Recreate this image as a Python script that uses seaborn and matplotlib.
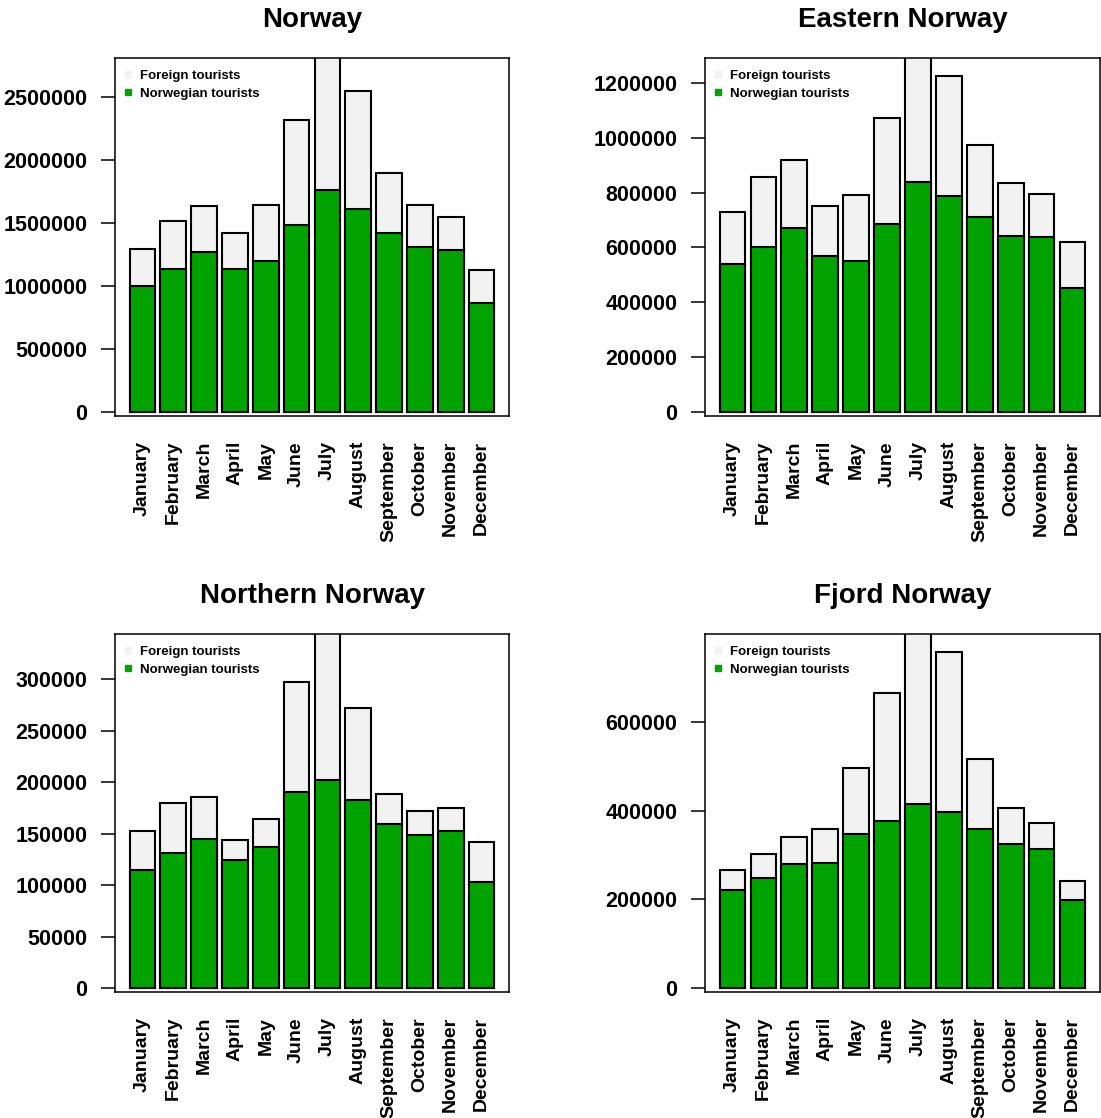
import matplotlib
matplotlib.use("Agg")
import matplotlib.pyplot as plt
from matplotlib.lines import Line2D
import seaborn as sns
import pandas as pd

months = ["January", "February", "March", "April", "May", "June", "July",
          "August", "September", "October", "November", "December"]

# Guest nights per month: total (Norwegian + foreign) and Norwegian only
norway_total = [1295000, 1515000, 1632000, 1425000, 1645000, 2317000, 2950000,
                2553000, 1900000, 1640000, 1545000, 1128000]
norway_norwegian = [1003000, 1136000, 1269000, 1131000, 1200000, 1481000, 1765000,
                    1614000, 1420000, 1311000, 1282000, 865000]

eastern_total = [728000, 855000, 918000, 751000, 792000, 1073000, 1400000,
                 1224000, 972000, 834000, 795000, 619000]
eastern_norwegian = [540000, 602000, 671000, 568000, 551000, 686000, 838000,
                     787000, 710000, 643000, 637000, 451000]

northern_total = [152100, 180100, 185600, 144000, 164500, 296800, 370000,
                  271800, 188600, 171600, 174600, 142100]
northern_norwegian = [114800, 131000, 145000, 123900, 136900, 190500, 201900,
                      182400, 159000, 148900, 152500, 103400]

fjord_total = [265700, 301900, 339600, 357700, 495800, 665700, 860000,
               757700, 515500, 406800, 372800, 241500]
fjord_norwegian = [221100, 248300, 280800, 283000, 347200, 375800, 415800,
                   397000, 358500, 325300, 313200, 199200]

titles = ["Norway", "Eastern Norway", "Northern Norway", "Fjord Norway"]
y_ticks = [
    [0, 500000, 1000000, 1500000, 2000000, 2500000],
    [0, 200000, 400000, 600000, 800000, 1000000, 1200000],
    [0, 50000, 100000, 150000, 200000, 250000, 300000],
    [0, 200000, 400000, 600000],
]
y_limits = [(-34500, 2813000), (-15800, 1291000), (-3900, 343900), (-9060, 798500)]

FOREIGN = "#F2F2F2"
NORWEGIAN = "#00A300"

sns.set_style("ticks")
plt.rcParams["font.family"] = ["Liberation Sans", "DejaVu Sans"]
plt.rcParams["font.weight"] = "bold"
plt.rcParams["axes.linewidth"] = 1.1
plt.rcParams["axes.edgecolor"] = "black"
plt.rcParams["text.color"] = "black"
plt.rcParams["axes.labelcolor"] = "black"
plt.rcParams["xtick.color"] = "black"
plt.rcParams["ytick.color"] = "black"

fig = plt.figure(figsize=(11.01, 11.18), dpi=100)
W, H = 1101, 1118
boxes = [(115, 58, 509, 416), (705, 58, 1100, 416),
         (115, 634, 509, 992), (705, 634, 1100, 992)]

panels = [
    (norway_total, norway_norwegian),
    (eastern_total, eastern_norwegian),
    (northern_total, northern_norwegian),
    (fjord_total, fjord_norwegian),
]

for (x0, y0, x1, y1), title, (total, norw), ticks, ylim in zip(
        boxes, titles, panels, y_ticks, y_limits):
    ax = fig.add_axes([x0 / W, 1 - y1 / H, (x1 - x0) / W, (y1 - y0) / H])
    df = pd.DataFrame({"month": months, "total": total, "norwegian": norw})
    sns.barplot(data=df, x="month", y="total", color=FOREIGN, saturation=1,
                edgecolor="black", linewidth=1.5, width=0.833, ax=ax)
    sns.barplot(data=df, x="month", y="norwegian", color=NORWEGIAN, saturation=1,
                edgecolor="black", linewidth=1.5, width=0.833, ax=ax)
    ax.set_xlim(-0.89, 11.89)
    ax.set_ylim(*ylim)
    ax.set_yticks(ticks)
    ax.set_yticklabels([str(t) for t in ticks], fontsize=15.5, fontweight="bold")
    ax.set_xticks(range(len(months)))
    ax.set_xticklabels(months, rotation=90, fontsize=14, fontweight="bold",
                       ha="center", va="top")
    ax.tick_params(axis="x", length=0, pad=18)
    ax.tick_params(axis="y", length=10, width=1.1, pad=10, color="black")
    ax.set_xlabel("")
    ax.set_ylabel("")
    for s in ax.spines.values():
        s.set_visible(True)
        s.set_color("black")
    ax.set_title(title, fontsize=20, fontweight="bold", pad=22, color="black")

    handles = [
        Line2D([], [], linestyle="none", marker="s", markersize=4,
               markerfacecolor=FOREIGN, markeredgecolor=FOREIGN),
        Line2D([], [], linestyle="none", marker="s", markersize=4,
               markerfacecolor=NORWEGIAN, markeredgecolor=NORWEGIAN),
    ]
    ax.legend(handles, ["Foreign tourists", "Norwegian tourists"],
              loc="upper left", bbox_to_anchor=(0.015, 0.967), frameon=False,
              prop={"size": 9.5, "weight": "bold"}, handlelength=1.0,
              handletextpad=0.45, labelspacing=0.4, borderpad=0,
              borderaxespad=0)

fig.savefig("out.png", dpi=100, facecolor="white")
